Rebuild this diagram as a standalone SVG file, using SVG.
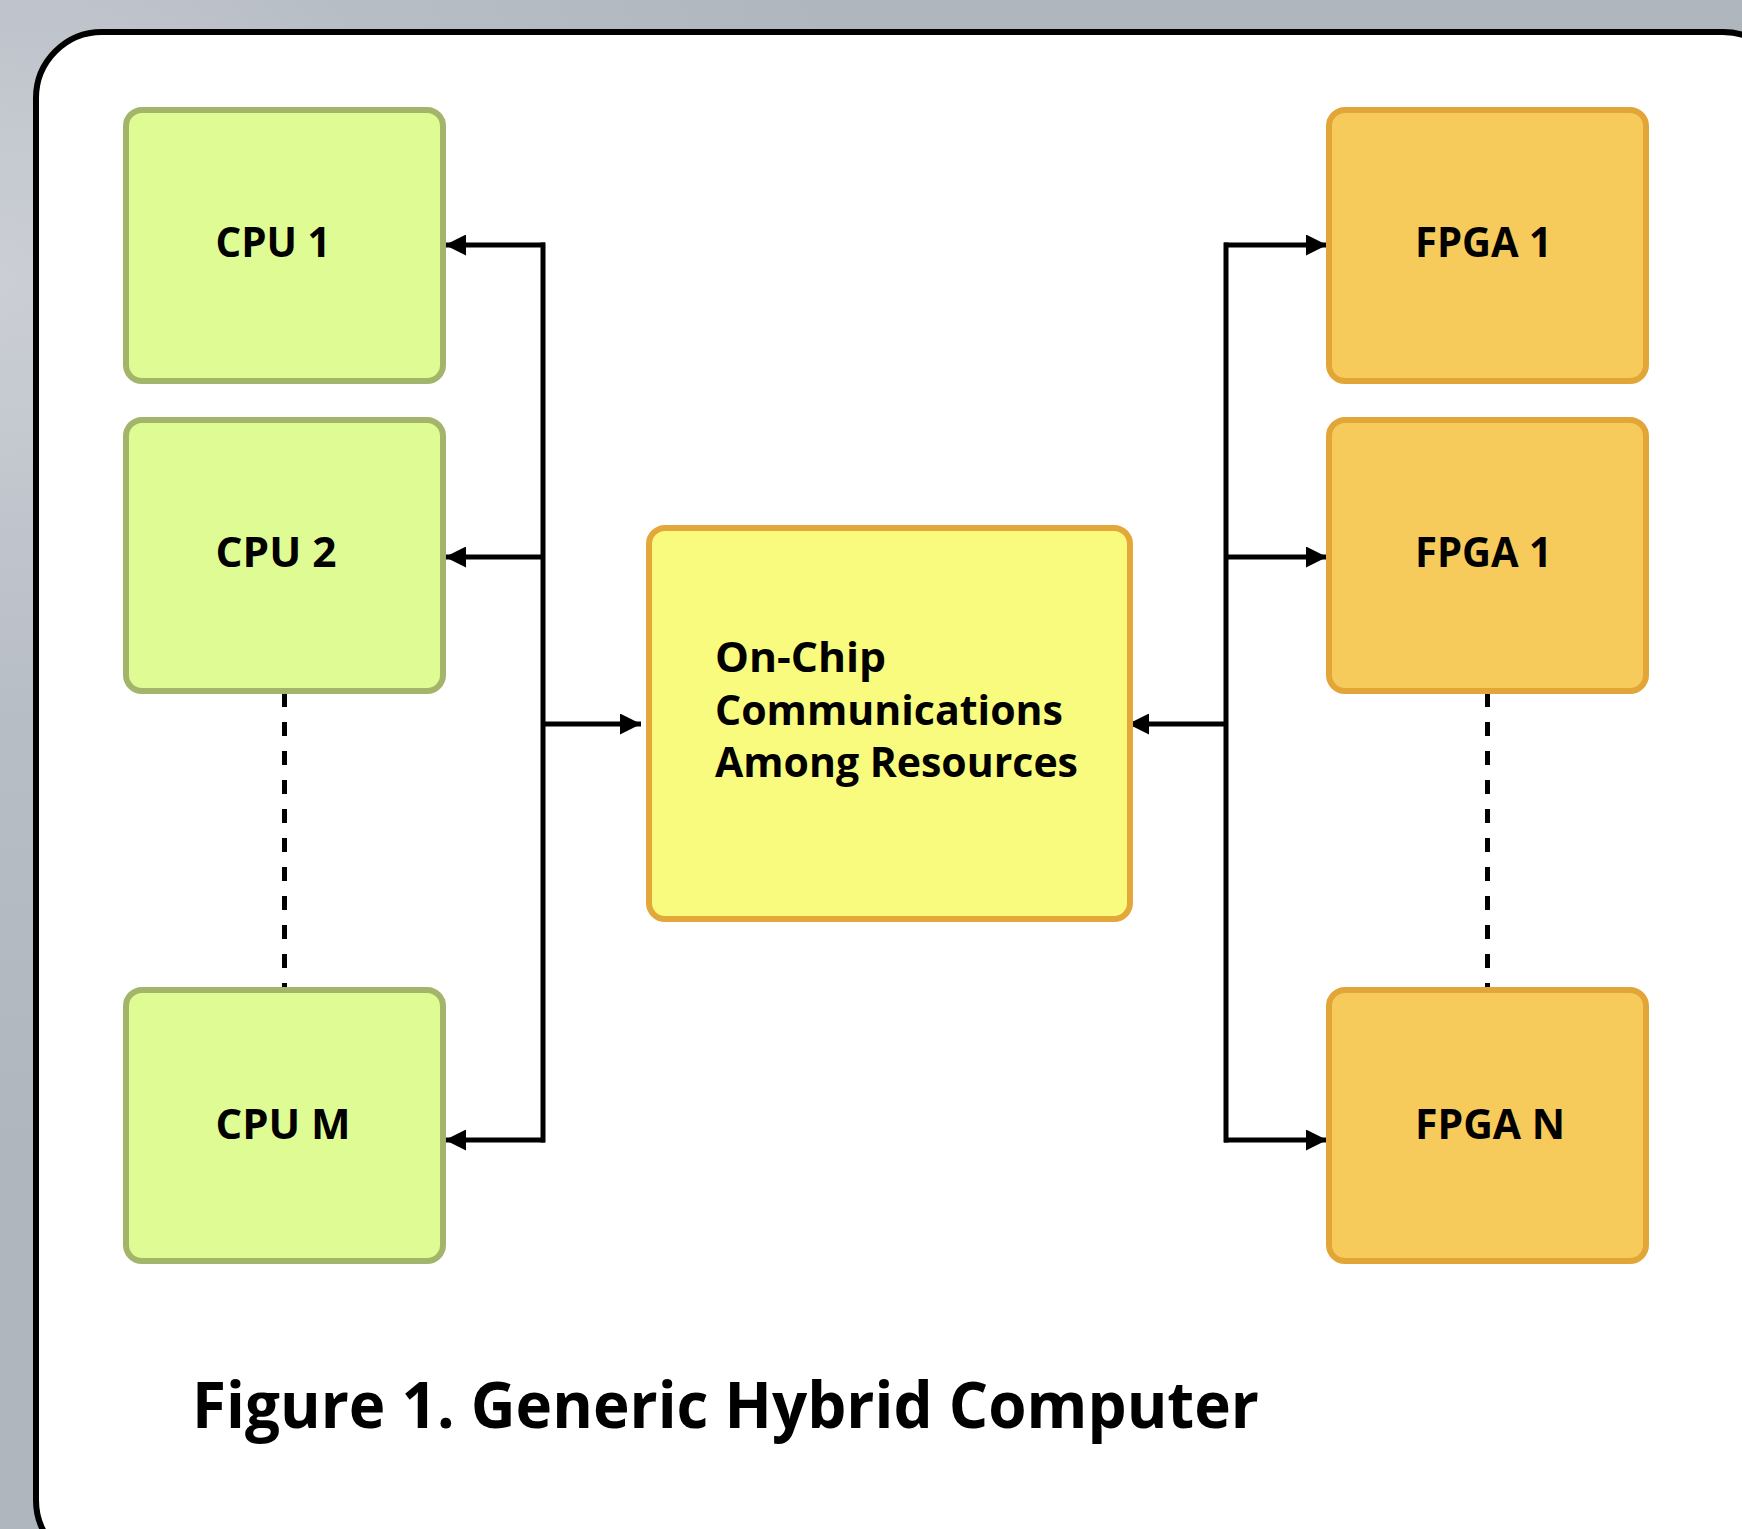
<svg xmlns="http://www.w3.org/2000/svg" width="1742" height="1529" viewBox="0 0 1742 1529">
<defs>
<radialGradient id="bg" cx="0" cy="280" r="900" gradientUnits="userSpaceOnUse">
<stop offset="0" stop-color="#cbced5"/>
<stop offset="0.5" stop-color="#b7bdc5"/>
<stop offset="1" stop-color="#afb6be"/>
</radialGradient>
<marker id="ah" markerUnits="userSpaceOnUse" markerWidth="21" markerHeight="21" refX="21" refY="10.5" orient="auto">
<path d="M0,0 L21,10.5 L0,21 z" fill="#000"/>
</marker>
<style>
.cpu{fill:#dffc94;stroke:#a3b56a;stroke-width:6}
.fpga{fill:#f7cb5b;stroke:#e2a638;stroke-width:6}
.hub{fill:#f9fb7f;stroke:#e3a73a;stroke-width:6}
.lbl{font-family:"Open Sans","Liberation Sans",sans-serif;font-weight:700;font-size:41px;fill:#000}
.title{font-family:"Open Sans","Liberation Sans",sans-serif;font-weight:700;font-size:64px;fill:#000}
.wire{fill:none;stroke:#000;stroke-width:5}
.arr{fill:none;stroke:#000;stroke-width:5;marker-end:url(#ah)}
.dash{fill:none;stroke:#000;stroke-width:5;stroke-dasharray:14 15}
</style>
</defs>
<rect x="0" y="0" width="1742" height="1529" fill="url(#bg)"/>
<rect x="36" y="32" width="1753" height="1534" rx="66" ry="66" fill="#fff" stroke="#000" stroke-width="6"/>

<g id="connectors">
<path class="wire" d="M543,242.5 V1142.5"/>
<path class="arr" d="M545,245 H445"/>
<path class="arr" d="M543,557 H445"/>
<path class="arr" d="M545,1140 H445"/>
<path class="arr" d="M543,724 H641"/>
<path class="wire" d="M1226,242.5 V1142.5"/>
<path class="arr" d="M1224,245 H1327"/>
<path class="arr" d="M1226,557 H1327"/>
<path class="arr" d="M1224,1140 H1327"/>
<path class="arr" d="M1224,724 H1128"/>
<path class="dash" d="M284.5,693 V989"/>
<path class="dash" d="M1487.5,693 V989"/>
</g>

<g id="cpu1"><rect class="cpu" x="126" y="110" width="317" height="271" rx="16"/><text class="lbl" x="215.5" y="257" textLength="115" lengthAdjust="spacingAndGlyphs">CPU 1</text></g>
<g id="cpu2"><rect class="cpu" x="126" y="420" width="317" height="271" rx="16"/><text class="lbl" x="215.5" y="567" textLength="121" lengthAdjust="spacingAndGlyphs">CPU 2</text></g>
<g id="cpum"><rect class="cpu" x="126" y="990" width="317" height="271" rx="16"/><text class="lbl" x="215.5" y="1139" textLength="135" lengthAdjust="spacingAndGlyphs">CPU M</text></g>

<g id="fpga1"><rect class="fpga" x="1329" y="110" width="317" height="271" rx="16"/><text class="lbl" x="1415" y="257" textLength="137" lengthAdjust="spacingAndGlyphs">FPGA 1</text></g>
<g id="fpga2"><rect class="fpga" x="1329" y="420" width="317" height="271" rx="16"/><text class="lbl" x="1415" y="567" textLength="137" lengthAdjust="spacingAndGlyphs">FPGA 1</text></g>
<g id="fpgan"><rect class="fpga" x="1329" y="990" width="317" height="271" rx="16"/><text class="lbl" x="1415" y="1139" textLength="150" lengthAdjust="spacingAndGlyphs">FPGA N</text></g>

<g id="onchip"><rect class="hub" x="649" y="528" width="481" height="391" rx="16"/>
<text class="lbl" x="715" y="672" textLength="171" lengthAdjust="spacingAndGlyphs">On-Chip</text>
<text class="lbl" x="715" y="724.5" textLength="348" lengthAdjust="spacingAndGlyphs">Communications</text>
<text class="lbl" x="715" y="777" textLength="363" lengthAdjust="spacingAndGlyphs">Among Resources</text>
</g>

<text class="title" x="192" y="1428" textLength="1067" lengthAdjust="spacingAndGlyphs">Figure 1. Generic Hybrid Computer</text>
</svg>
